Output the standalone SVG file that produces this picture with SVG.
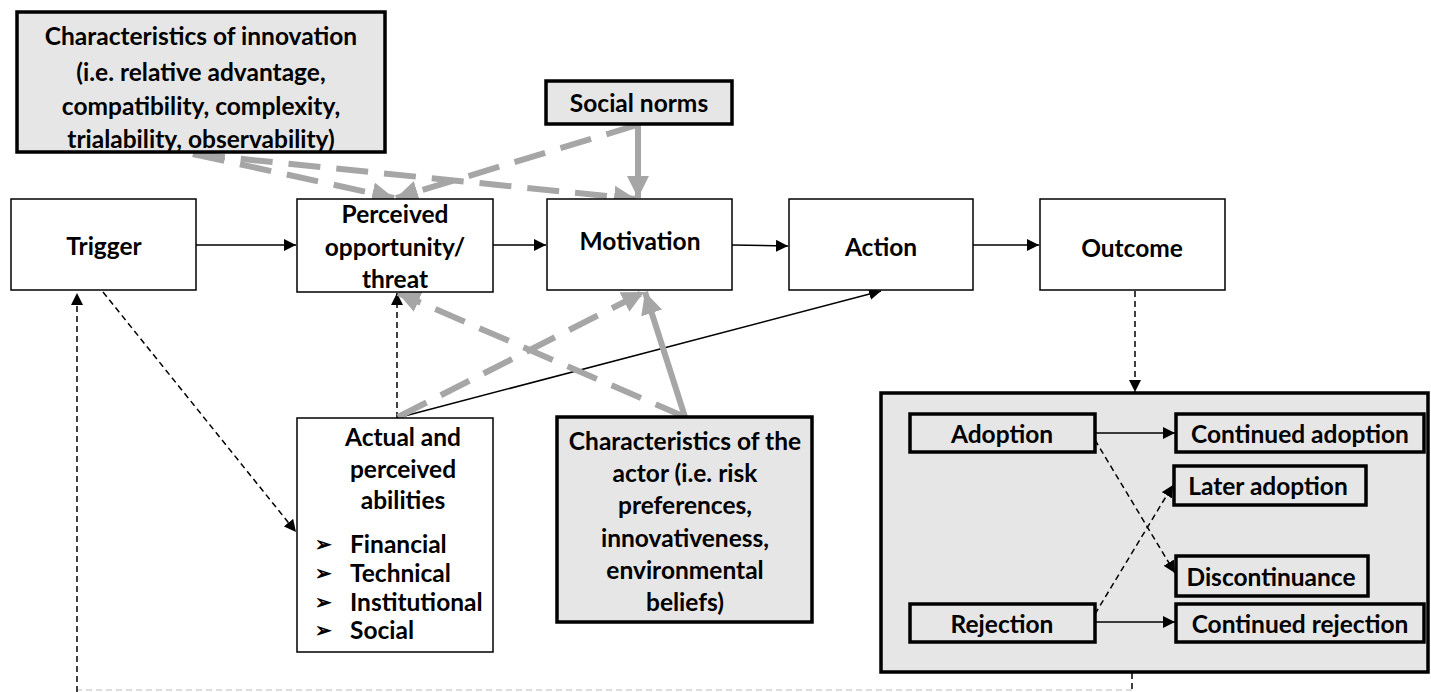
<svg xmlns="http://www.w3.org/2000/svg" width="1431" height="692" viewBox="0 0 1431 692">
  <defs>
    <style>
      text { font-family: Lato, "Open Sans", "Liberation Sans", sans-serif; font-weight: bold; font-size: 24.5px; fill: #000; text-anchor: middle; dominant-baseline: central; }
      .plain { fill: #fff; stroke: #000; stroke-width: 1.5; }
      .shade { fill: #e7e6e6; stroke: #000; stroke-width: 3.5; }
      .solid { stroke: #000; stroke-width: 1.5; fill: none; }
      .dash { stroke: #000; stroke-width: 1.5; fill: none; stroke-dasharray: 6 4; }
      .faint { stroke: #bbb; stroke-width: 1; fill: none; stroke-dasharray: 6 4; }
      .grey { stroke: #a6a6a6; stroke-width: 6; fill: none; }
      .greyd { stroke: #a6a6a6; stroke-width: 6; fill: none; stroke-dasharray: 32 16; }
      .bul { text-anchor: start; }
      .sym { text-anchor: start; font-size: 20px; }
    </style>
    <marker id="ah" viewBox="0 0 10 10" refX="10" refY="5" markerWidth="12" markerHeight="12" markerUnits="userSpaceOnUse" orient="auto">
      <path d="M0,0 L10,5 L0,10 z" fill="#000"/>
    </marker>
    <marker id="gh" viewBox="0 0 10 10" refX="10" refY="5" markerWidth="22" markerHeight="22" markerUnits="userSpaceOnUse" orient="auto">
      <path d="M0,0 L10,5 L0,10 z" fill="#a6a6a6"/>
    </marker>
  </defs>

  <rect x="0" y="0" width="1431" height="692" fill="#fff"/>

  <!-- outcome panel background drawn first so its contents sit on top -->
  <g id="outcomes-panel">
    <rect class="shade" x="881" y="393" width="547" height="279"/>
  </g>

  <g id="connectors">
    <!-- main chain -->
    <line class="solid" x1="196" y1="245" x2="296" y2="245" marker-end="url(#ah)"/>
    <line class="solid" x1="493" y1="245" x2="546" y2="245" marker-end="url(#ah)"/>
    <line class="solid" x1="732" y1="245" x2="788" y2="246" marker-end="url(#ah)"/>
    <line class="solid" x1="973" y1="245" x2="1039" y2="245" marker-end="url(#ah)"/>
    <!-- abilities to action -->
    <line class="solid" x1="397" y1="418" x2="881" y2="291" marker-end="url(#ah)"/>
    <!-- dashed links -->
    <line class="dash" x1="397" y1="418" x2="397" y2="293" marker-end="url(#ah)"/>
    <line class="dash" x1="103" y1="292" x2="296" y2="532" marker-end="url(#ah)"/>
    <line class="dash" x1="1135" y1="291" x2="1135" y2="392" marker-end="url(#ah)"/>
    <polyline class="dash" points="1132,673 1132,690"/>
    <line class="faint" x1="1132" y1="690" x2="78" y2="690"/>
    <line class="dash" x1="77" y1="692" x2="77" y2="293" marker-end="url(#ah)"/>
    <!-- grey influences -->
    <line class="greyd" x1="193" y1="154" x2="394" y2="198" marker-end="url(#gh)"/>
    <line class="greyd" x1="193" y1="154" x2="636" y2="199" marker-end="url(#gh)"/>
    <line class="greyd" x1="637" y1="125" x2="396" y2="198" marker-end="url(#gh)"/>
    <line class="grey" x1="638" y1="124" x2="638" y2="198" marker-end="url(#gh)"/>
    <line class="greyd" x1="398" y1="417" x2="644" y2="292" marker-end="url(#gh)"/>
    <line class="greyd" x1="685" y1="417" x2="398" y2="293" marker-end="url(#gh)"/>
    <line class="grey" x1="685" y1="417" x2="645" y2="292" marker-end="url(#gh)"/>
    <!-- inside outcome panel -->
    <line class="solid" x1="1095" y1="433" x2="1175" y2="433" marker-end="url(#ah)"/>
    <line class="solid" x1="1095" y1="622" x2="1175" y2="622" marker-end="url(#ah)"/>
    <line class="dash" x1="1095" y1="440" x2="1175" y2="573" marker-end="url(#ah)"/>
    <line class="dash" x1="1095" y1="614" x2="1173" y2="485" marker-end="url(#ah)"/>
  </g>

  <g id="innovation">
    <rect class="shade" x="17" y="12" width="368" height="140"/>
    <text x="201" y="35">Characteristics of innovation</text>
    <text x="201" y="71">(i.e. relative advantage,</text>
    <text x="201" y="105">compatibility, complexity,</text>
    <text x="201" y="138">trialability, observability)</text>
  </g>

  <g id="social-norms">
    <rect class="shade" x="546" y="81" width="186" height="43"/>
    <text x="639" y="102">Social norms</text>
  </g>

  <g id="trigger">
    <rect class="plain" x="11" y="199" width="185" height="91"/>
    <text x="104" y="245">Trigger</text>
  </g>

  <g id="perceived">
    <rect class="plain" x="297" y="199" width="196" height="93"/>
    <text x="395" y="213">Perceived</text>
    <text x="395" y="246">opportunity/</text>
    <text x="395" y="278">threat</text>
  </g>

  <g id="motivation">
    <rect class="plain" x="547" y="199" width="185" height="91"/>
    <text x="640" y="240">Motivation</text>
  </g>

  <g id="action">
    <rect class="plain" x="789" y="199" width="184" height="91"/>
    <text x="881" y="246">Action</text>
  </g>

  <g id="outcome">
    <rect class="plain" x="1040" y="199" width="185" height="91"/>
    <text x="1132" y="247">Outcome</text>
  </g>

  <g id="abilities">
    <rect class="plain" x="297" y="418" width="196" height="234"/>
    <text x="403" y="436">Actual and</text>
    <text x="403" y="468">perceived</text>
    <text x="403" y="499">abilities</text>
    <text class="sym" x="315" y="543">➢</text>
    <text class="bul" x="350" y="543">Financial</text>
    <text class="sym" x="315" y="572">➢</text>
    <text class="bul" x="350" y="572">Technical</text>
    <text class="sym" x="315" y="601">➢</text>
    <text class="bul" x="350" y="601">Institutional</text>
    <text class="sym" x="315" y="629">➢</text>
    <text class="bul" x="350" y="629">Social</text>
  </g>

  <g id="actor">
    <rect class="shade" x="557" y="417" width="255" height="205"/>
    <text x="685" y="440">Characteristics of the</text>
    <text x="685" y="472">actor (i.e. risk</text>
    <text x="685" y="504">preferences,</text>
    <text x="685" y="537">innovativeness,</text>
    <text x="685" y="569">environmental</text>
    <text x="685" y="601">beliefs)</text>
  </g>

  <g id="adoption">
    <rect class="shade" x="910" y="414" width="185" height="38"/>
    <text x="1002" y="433">Adoption</text>
  </g>

  <g id="rejection">
    <rect class="shade" x="910" y="604" width="185" height="38"/>
    <text x="1002" y="623">Rejection</text>
  </g>

  <g id="continued-adoption">
    <rect class="shade" x="1176" y="414" width="248" height="38"/>
    <text x="1300" y="433">Continued adoption</text>
  </g>

  <g id="later-adoption">
    <rect class="shade" x="1174" y="466" width="192" height="39"/>
    <text x="1268" y="485">Later adoption</text>
  </g>

  <g id="discontinuance">
    <rect class="shade" x="1176" y="556" width="192" height="40"/>
    <text x="1271" y="576">Discontinuance</text>
  </g>

  <g id="continued-rejection">
    <rect class="shade" x="1176" y="604" width="248" height="38"/>
    <text x="1300" y="623">Continued rejection</text>
  </g>
</svg>
